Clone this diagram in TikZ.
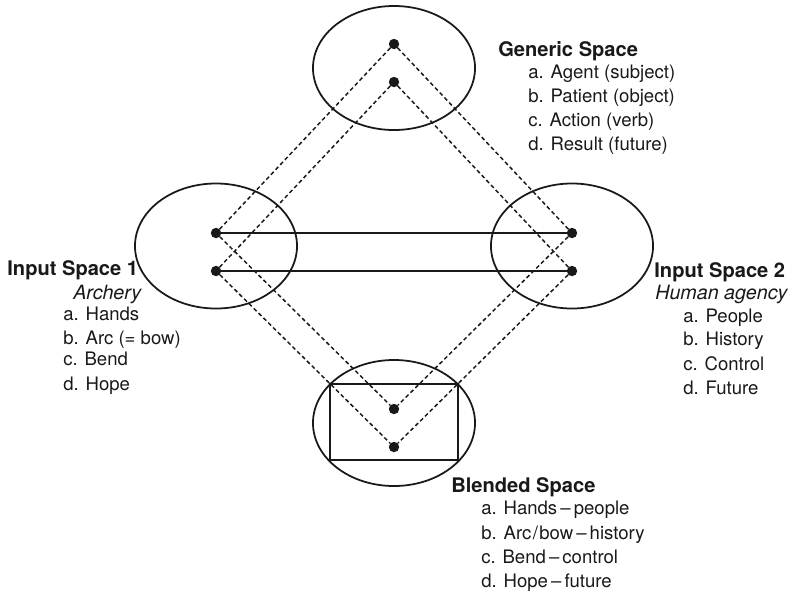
\documentclass[tikz,border=0pt]{standalone}
\usepackage{fontspec}
\setmainfont{TeX Gyre Heros}
\usepackage{tikz}
\usetikzlibrary{shapes.geometric}

\begin{document}
\begin{tikzpicture}[
    x=0.025cm, y=-0.025cm,
    space/.style={ellipse, draw=black!90, line width=1.25pt, inner sep=0pt, minimum width=4.05cm, minimum height=3.1cm},
    dot/.style={circle, fill=black!90, inner sep=0pt, minimum size=0.26cm},
    link/.style={draw=black!90, line width=1.25pt},
    mapping/.style={draw=black!90, line width=1.05pt, dash pattern=on 0.1cm off 0.07cm},
    title/.style={anchor=base west, inner sep=0pt, font=\fontsize{14.3}{17}\selectfont\bfseries, text=black!90},
    subtitle/.style={anchor=base west, inner sep=0pt, font=\fontsize{14}{17}\selectfont\itshape, text=black!90},
    item/.style={anchor=base west, inner sep=0pt, font=\fontsize{13.2}{16}\selectfont, text=black!90},
]
\useasboundingbox (0,0) rectangle (796,594);

% ===== Spaces =====
\node[space] (generic) at (394,68) {};
\node[space, minimum height=3.125cm] (input1) at (216,246) {};
\node[space, minimum height=3.125cm] (input2) at (572,246) {};
\node[space, minimum height=3.15cm] (blended) at (394,423) {};
\node[draw=black!90, line width=1.35pt, inner sep=0pt, minimum width=3.2cm, minimum height=1.9cm] (frame) at (394,422) {};

% ===== Elements =====
\node[dot] (g1) at (394,44) {};
\node[dot] (g2) at (394,82) {};
\node[dot] (l1) at (216,233) {};
\node[dot] (l2) at (216,271) {};
\node[dot] (r1) at (572,233) {};
\node[dot] (r2) at (572,271) {};
\node[dot] (b1) at (394,409) {};
\node[dot] (b2) at (394,447) {};

% ===== Cross-space mapping =====
\draw[link] (l1) -- (r1);
\draw[link] (l2) -- (r2);

% ===== Projections =====
\draw[mapping] (g1) -- (l1);
\draw[mapping] (g1) -- (r1);
\draw[mapping] (g2) -- (l2);
\draw[mapping] (g2) -- (r2);
\draw[mapping] (l1) -- (b1);
\draw[mapping] (r1) -- (b1);
\draw[mapping] (l2) -- (b2);
\draw[mapping] (r2) -- (b2);

% ===== Generic space text =====
\node[title] (gtitle) at (498,56.5) {Generic Space};
\node[item] (ga) at (528,78.5) {a. Agent (subject)};
\node[item] (gb) at (528,102.5) {b. Patient (object)};
\node[item] (gc) at (528,126.5) {c. Action (verb)};
\node[item] (gd) at (528,150.5) {d. Result (future)};

% ===== Input space 1 text =====
\node[title] (ltitle) at (7,275.5) {Input Space 1};
\node[subtitle] (lsub) at (73,299.5) {Archery};
\node[item] (la) at (63,320.5) {a. Hands};
\node[item] (lb) at (63,344.5) {b. Arc (= bow)};
\node[item] (lc) at (63,365.5) {c. Bend};
\node[item] (ld) at (63,390.5) {d. Hope};

% ===== Input space 2 text =====
\node[title] (rtitle) at (654,277.5) {Input Space 2};
\node[subtitle] (rsub) at (655,299.5) {Human agency};
\node[item] (ra) at (683,322.5) {a. People};
\node[item] (rb) at (683,345.5) {b. History};
\node[item] (rc) at (683,370.5) {c. Control};
\node[item] (rd) at (683,394.5) {d. Future};

% ===== Blended space text =====
\node[title] (btitle) at (451,492.5) {Blended Space};
\node[item] (ba) at (481,514.5) {a. Hands\,--\,people};
\node[item] (bb) at (481,539.5) {b. Arc\kern1pt/\kern1pt bow\,--\,history};
\node[item] (bc) at (481,563.5) {c. Bend\,--\,control};
\node[item] (bd) at (481,587.5) {d. Hope\,--\,future};

\end{tikzpicture}
\end{document}
